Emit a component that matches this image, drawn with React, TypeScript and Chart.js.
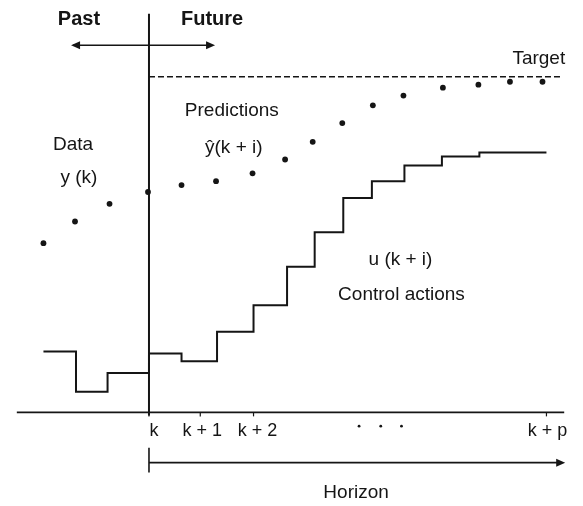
import React, { useEffect, useRef } from "react";
import { Chart, registerables } from "chart.js";

Chart.register(...registerables);

// Positions along the time axis and levels (arbitrary units, axis = 0)
const pastX = [40, 72, 107, 146];
const pastY = [172, 194, 212, 224];
const predX = [180, 215, 252, 285, 313, 343, 374, 405, 445, 481, 513, 546];
const predY = [231, 235, 243, 257, 275, 294, 312, 322, 330, 333, 336, 336];
const uX = [40, 73, 105, 147, 180, 216, 253, 287, 315, 344, 373, 406, 444, 482, 550];
const uY = [62, 21, 40, 60, 52, 82, 109, 148, 183, 218, 235, 251, 260, 264, 264];
const targetLevel = 341;
const targetRange = [147, 565];
const kPos = 147;
const kTop = 405;
const axisRange = [13, 568];
const tickPos = [147, 199, 253, 550];
const tickLabels = ["k", "k + 1", "k + 2", "k + p"];
const tickLabelX = [152, 201, 257, 551];

const INK = "#151515";
const FONT = "'Liberation Sans', Arial, sans-serif";

const annot = {
  id: "annot",
  afterDatasetsDraw(chart: any) {
    const { ctx, scales } = chart;
    const X = (v: number) => scales.x.getPixelForValue(v);
    const Y = (v: number) => scales.y.getPixelForValue(v);
    ctx.save();
    ctx.fillStyle = INK;
    ctx.strokeStyle = INK;
    ctx.textAlign = "center";
    ctx.textBaseline = "middle";

    const arrowHead = (x: number, y: number, dir: number) => {
      ctx.beginPath();
      ctx.moveTo(x, y);
      ctx.lineTo(x - dir * 9, y - 4);
      ctx.lineTo(x - dir * 9, y + 4);
      ctx.closePath();
      ctx.fill();
    };

    // Past / Future arrow
    const ay = Y(373);
    ctx.lineWidth = 1.5;
    ctx.beginPath();
    ctx.moveTo(X(70), ay);
    ctx.lineTo(X(211), ay);
    ctx.stroke();
    arrowHead(X(68), ay, -1);
    arrowHead(X(214), ay, 1);

    ctx.font = `bold 20px ${FONT}`;
    ctx.fillText("Past", X(76), Y(399));
    ctx.fillText("Future", X(211), Y(399));

    ctx.font = `19px ${FONT}`;
    ctx.textAlign = "right";
    ctx.fillText("Target", X(569), Y(359));
    ctx.textAlign = "center";
    ctx.fillText("Predictions", X(231), Y(307));
    ctx.fillText("\u0177(k + i)", X(233), Y(269));
    ctx.fillText("Data", X(70), Y(272));
    ctx.fillText("y (k)", X(76), Y(238));
    ctx.fillText("u (k + i)", X(402), Y(155));
    ctx.fillText("Control actions", X(403), Y(120));

    // ticks
    ctx.lineWidth = 1.2;
    tickPos.forEach((t) => {
      ctx.beginPath();
      ctx.moveTo(X(t), Y(0));
      ctx.lineTo(X(t), Y(-4));
      ctx.stroke();
    });
    ctx.font = `18px ${FONT}`;
    tickLabels.forEach((l, i) => {
      ctx.fillText(l, X(tickLabelX[i]), Y(-19));
    });
    // ellipsis dots
    [360, 382, 403].forEach((d) => {
      ctx.beginPath();
      ctx.arc(X(d), Y(-14), 1.4, 0, Math.PI * 2);
      ctx.fill();
    });

    // Horizon arrow
    const hy = Y(-51);
    ctx.lineWidth = 1.6;
    ctx.beginPath();
    ctx.moveTo(X(kPos), Y(-36));
    ctx.lineTo(X(kPos), Y(-61));
    ctx.stroke();
    ctx.beginPath();
    ctx.moveTo(X(kPos), hy);
    ctx.lineTo(X(562), hy);
    ctx.stroke();
    arrowHead(X(569), hy, 1);

    ctx.font = `19px ${FONT}`;
    ctx.fillText("Horizon", X(357), Y(-82));
    ctx.restore();
  },
};

export default function App() {
  const ref = useRef<HTMLCanvasElement>(null);
  useEffect(() => {
    document.body.style.margin = "0";
    const pts = (xs: number[], ys: number[]) => xs.map((x, i) => ({ x, y: ys[i] }));
    const chart = new Chart(ref.current!, {
      type: "line",
      data: {
        datasets: [
          {
            data: [{ x: axisRange[0], y: 0 }, { x: axisRange[1], y: 0 }],
            borderColor: INK,
            borderWidth: 1.8,
            pointRadius: 0,
          },
          {
            data: [{ x: kPos, y: -3 }, { x: kPos, y: kTop }],
            borderColor: INK,
            borderWidth: 2,
            pointRadius: 0,
          },
          {
            data: [{ x: targetRange[0], y: targetLevel }, { x: targetRange[1], y: targetLevel }],
            borderColor: INK,
            borderWidth: 1.5,
            borderDash: [6, 3],
            pointRadius: 0,
          },
          {
            data: pts(uX, uY),
            borderColor: INK,
            borderWidth: 2,
            stepped: "before",
            pointRadius: 0,
          },
          {
            type: "scatter",
            data: pts(pastX, pastY),
            showLine: false,
            pointRadius: 2.9,
            pointBorderWidth: 0,
            backgroundColor: INK,
          } as any,
          {
            type: "scatter",
            data: pts(predX, predY),
            showLine: false,
            pointRadius: 2.9,
            pointBorderWidth: 0,
            backgroundColor: INK,
          } as any,
        ],
      },
      options: {
        animation: false,
        responsive: false,
        maintainAspectRatio: false,
        layout: { padding: 0 },
        plugins: { legend: { display: false }, tooltip: { enabled: false } },
        scales: {
          x: { type: "linear", min: 0, max: 583, display: false },
          y: { type: "linear", min: -91, max: 415, display: false },
        },
      },
      plugins: [annot],
    } as any);
    return () => chart.destroy();
  }, []);
  return (
    <div style={{ width: 583, height: 506, background: "#fff" }}>
      <canvas ref={ref} width={583} height={506} />
    </div>
  );
}
